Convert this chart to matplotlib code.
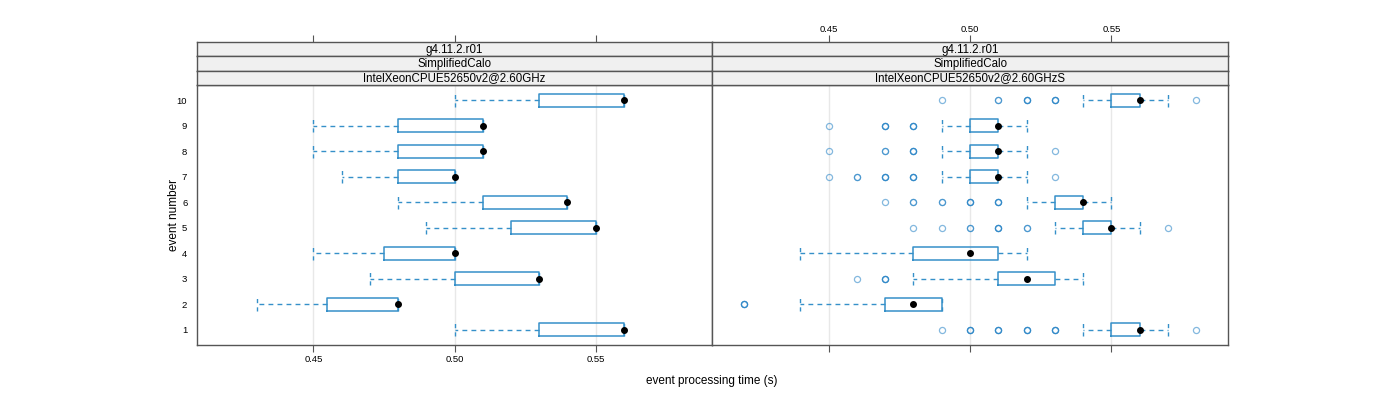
import matplotlib
matplotlib.use("Agg")
import matplotlib.pyplot as plt

plt.rcParams['font.family'] = ['Liberation Sans', 'DejaVu Sans']

# ---------------- data ----------------
events = [1, 2, 3, 4, 5, 6, 7, 8, 9, 10]
strip_top = "g4.11.2.r01"
strip_mid = "SimplifiedCalo"
panel_names = ["IntelXeonCPUE52650v2@2.60GHz", "IntelXeonCPUE52650v2@2.60GHzS"]

# panel 1
p1_lo  = [0.50, 0.43, 0.47, 0.45, 0.49, 0.48, 0.46, 0.45, 0.45, 0.50]
p1_q1  = [0.53, 0.455, 0.50, 0.475, 0.52, 0.51, 0.48, 0.48, 0.48, 0.53]
p1_med = [0.56, 0.48, 0.53, 0.50, 0.55, 0.54, 0.50, 0.51, 0.51, 0.56]
p1_q3  = [0.56, 0.48, 0.53, 0.50, 0.55, 0.54, 0.50, 0.51, 0.51, 0.56]
p1_hi  = [0.56, 0.48, 0.53, 0.50, 0.55, 0.54, 0.50, 0.51, 0.51, 0.56]
p1_out = [[], [], [], [], [], [], [], [], [], []]

# panel 2
p2_lo  = [0.54, 0.44, 0.48, 0.44, 0.53, 0.52, 0.49, 0.49, 0.49, 0.54]
p2_q1  = [0.55, 0.47, 0.51, 0.48, 0.54, 0.53, 0.50, 0.50, 0.50, 0.55]
p2_med = [0.56, 0.48, 0.52, 0.50, 0.55, 0.54, 0.51, 0.51, 0.51, 0.56]
p2_q3  = [0.56, 0.49, 0.53, 0.51, 0.55, 0.54, 0.51, 0.51, 0.51, 0.56]
p2_hi  = [0.57, 0.49, 0.54, 0.52, 0.56, 0.55, 0.52, 0.52, 0.52, 0.57]
p2_out = [
    [0.49, 0.50, 0.50, 0.50, 0.51, 0.51, 0.51, 0.52, 0.52, 0.52, 0.53, 0.53, 0.53, 0.58],
    [0.42, 0.42, 0.42],
    [0.46, 0.47, 0.47, 0.47],
    [],
    [0.48, 0.49, 0.50, 0.50, 0.51, 0.51, 0.51, 0.52, 0.52, 0.57],
    [0.47, 0.48, 0.48, 0.49, 0.49, 0.50, 0.50, 0.50, 0.51, 0.51, 0.51],
    [0.45, 0.46, 0.46, 0.47, 0.47, 0.47, 0.48, 0.48, 0.48, 0.53],
    [0.45, 0.47, 0.47, 0.48, 0.48, 0.48, 0.53],
    [0.45, 0.47, 0.47, 0.47, 0.48, 0.48, 0.48],
    [0.49, 0.51, 0.51, 0.52, 0.52, 0.52, 0.53, 0.53, 0.53, 0.58],
]

xticks = [0.45, 0.50, 0.55]
xlim = (0.4088, 0.5912)
ylim = (0.4, 10.6)
xlabel = "event processing time (s)"
ylabel = "event number"

BLUE = "#3590c9"
FLIER = "#1f7fc4"
FRAME = "#555555"

W, H = 1400, 400
fig = plt.figure(figsize=(14, 4), dpi=100)

def fx(px):
    return px / W

def fy(py):
    return 1 - py / H

panel_x = [(197, 712), (712, 1228)]
data_top, data_bot = 85, 345
strip_h = (85 - 42) / 3.0

panels = [
    (p1_lo, p1_q1, p1_med, p1_q3, p1_hi, p1_out),
    (p2_lo, p2_q1, p2_med, p2_q3, p2_hi, p2_out),
]

for i, (x0, x1) in enumerate(panel_x):
    lo, q1, med, q3, hi, out = panels[i]
    ax = fig.add_axes([fx(x0), fy(data_bot), fx(x1 - x0), (data_bot - data_top) / H])
    ax.set_xlim(*xlim)
    ax.set_ylim(*ylim)
    for t in xticks:
        ax.axvline(t, color="#e8e8e8", lw=1.0, zorder=0)
    stats = []
    for k in range(len(events)):
        stats.append(dict(whislo=lo[k], q1=q1[k], med=med[k], q3=q3[k],
                          whishi=hi[k], fliers=out[k]))
    ax.bxp(stats, positions=events, widths=0.5, capwidths=0.5,
           orientation='horizontal', patch_artist=False,
           boxprops=dict(color=BLUE, lw=1.1),
           whiskerprops=dict(color=BLUE, lw=1.0, linestyle=(0, (3.5, 3.0))),
           capprops=dict(color=BLUE, lw=1.0, linestyle=(0, (3.0, 3.0))),
           medianprops=dict(lw=0),
           flierprops=dict(marker='o', markerfacecolor='none', markeredgecolor=FLIER,
                           markersize=4.4, markeredgewidth=0.9, alpha=0.55, linestyle='none'),
           manage_ticks=False, zorder=2)
    ax.plot(med, events, 'o', color='black', markersize=4.0, zorder=4, linestyle='none')
    ax.set_ylim(*ylim)
    ax.set_xlim(*xlim)
    for s in ax.spines.values():
        s.set_color(FRAME)
        s.set_linewidth(1.0)
    ax.set_xticks(xticks)
    ax.tick_params(axis='x', direction='out', length=5, width=0.8, color=FRAME,
                   labelsize=6.8, pad=2)
    if i == 0:
        ax.set_xticklabels(["%.2f" % t for t in xticks])
        ax.set_yticks(events)
        ax.set_yticklabels([str(e) for e in events])
        ax.tick_params(axis='y', length=0, labelsize=6.8, pad=7)
        ax.set_ylabel(ylabel, fontsize=8.5, labelpad=-2)
    else:
        ax.set_xticklabels([])
        ax.set_yticks([])

    # strips
    labels = [strip_top, strip_mid, panel_names[i]]
    for j, lab in enumerate(labels):
        top = 42 + j * strip_h
        sax = fig.add_axes([fx(x0), fy(top + strip_h), fx(x1 - x0), strip_h / H])
        sax.set_facecolor("#f0f0f0")
        sax.set_xlim(*xlim)
        sax.set_ylim(0, 1)
        sax.set_yticks([])
        for s in sax.spines.values():
            s.set_color(FRAME)
            s.set_linewidth(1.0)
        sax.text(0.5, 0.45, lab, transform=sax.transAxes, ha='center', va='center',
                 fontsize=8.3, color='black')
        if j == 0:
            sax.xaxis.set_ticks_position('top')
            sax.set_xticks(xticks)
            sax.tick_params(axis='x', direction='out', length=5, width=0.8, color=FRAME,
                            labelsize=6.8, pad=1)
            if i == 1:
                sax.set_xticklabels(["%.2f" % t for t in xticks])
            else:
                sax.set_xticklabels([])
        else:
            sax.set_xticks([])

fig.text(fx(712), fy(381), xlabel, ha='center', va='center', fontsize=8.5)

fig.savefig("out.png", dpi=100)
